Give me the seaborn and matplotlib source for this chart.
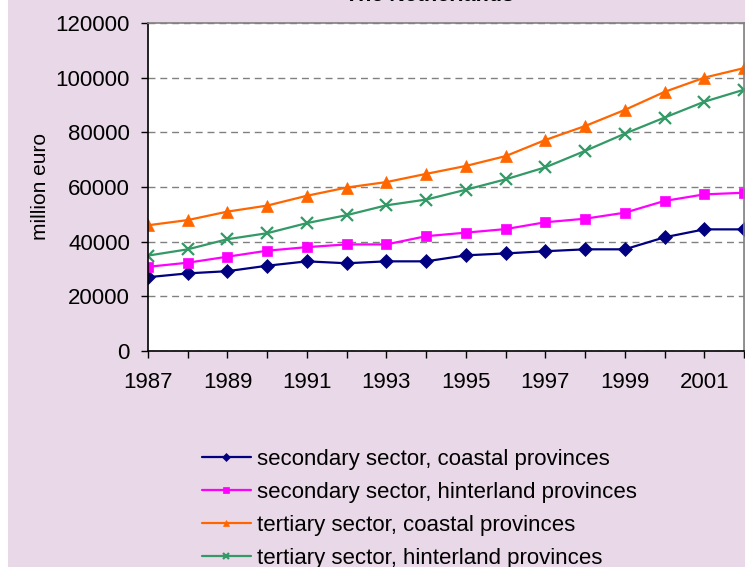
import numpy as np
import pandas as pd
import matplotlib
matplotlib.use('Agg')
import matplotlib.pyplot as plt
import seaborn as sns
from matplotlib.patches import Rectangle

# ─── Data (million euro) ───
years = list(range(1987, 2003))
sec_coastal = [27000, 28400, 29200, 31200, 32800, 32100, 32800, 32800,
               35000, 35700, 36500, 37200, 37200, 41600, 44500, 44500]
sec_hinter = [30800, 32300, 34500, 36700, 38000, 39000, 39000, 42000,
              43300, 44600, 47100, 48400, 50600, 54900, 57300, 57900]
ter_coastal = [46000, 47900, 51000, 53200, 56800, 59800, 61800, 64800,
               67700, 71300, 77200, 82300, 88200, 94800, 100000, 103500]
ter_hinter = [34900, 37200, 40900, 43100, 46800, 49700, 53300, 55400,
              59000, 62800, 67200, 73200, 79500, 85400, 91200, 95600]

labels = ['secondary sector, coastal provinces', 'secondary sector, hinterland provinces',
          'tertiary sector, coastal provinces', 'tertiary sector, hinterland provinces']
colors = ['#000080', '#FF00FF', '#FF6600', '#339966']
markers = ['D', 's', '^', 'x']
msizes = [7, 6.5, 8, 8]

BG = '#E8D8E8'

sns.set_style('white')
plt.rcParams['font.family'] = ['Liberation Sans', 'DejaVu Sans']
plt.rcParams['text.color'] = 'black'

fig = plt.figure(figsize=(7.45, 5.67), dpi=100)
fig.patch.set_facecolor('white')
fig.patches.append(Rectangle((8 / 745, 0), 1, 1, transform=fig.transFigure,
                             facecolor=BG, edgecolor='none', zorder=-10))
ax = fig.add_axes([148 / 745, 216 / 567, 596 / 745, 328 / 567])
ax.set_facecolor('white')

for vals, lab, c, m, ms in zip([sec_coastal, sec_hinter, ter_coastal, ter_hinter],
                               labels, colors, markers, msizes):
    df = pd.DataFrame({'year': years, 'value': vals})
    sns.lineplot(data=df, x='year', y='value', ax=ax, color=c, marker=m,
                 markersize=ms, markeredgecolor=c, markeredgewidth=1.6 if m == 'x' else 0.5,
                 linewidth=1.6, label=lab)

ax.set_xlim(1987, 2002)
ax.set_ylim(0, 120000)
ax.set_xticks(years)
ax.set_xticklabels([str(y) if (y - 1987) % 2 == 0 else '' for y in years])
ax.set_yticks(range(0, 120001, 20000))
ax.tick_params(axis='both', direction='out', length=5, width=1, color='black',
               labelcolor='black', labelsize=16, bottom=True, left=True)
ax.tick_params(axis='x', pad=10)
ax.tick_params(axis='y', pad=8)
ax.yaxis.grid(True, linestyle=(0, (5, 3.5)), color='#808080', linewidth=1)
ax.set_axisbelow(True)
for s in ['left', 'bottom']:
    ax.spines[s].set_color('black')
    ax.spines[s].set_linewidth(1.2)
for s in ['top', 'right']:
    ax.spines[s].set_color('#808080')
    ax.spines[s].set_linewidth(1.2)
ax.set_xlabel('')
ax.set_ylabel('million euro', fontsize=15, labelpad=4, color='black')
ax.set_title('The Netherlands', fontsize=15.5, fontweight='bold', x=0.473, y=1.0,
             pad=16, color='black')

ax.legend_.remove()
h, l = ax.get_legend_handles_labels()
fig.legend(h, l, loc='upper left', bbox_to_anchor=(193 / 745, 1 - 440 / 567),
           frameon=False, fontsize=16, markerscale=0.6, handlelength=2.2,
           handletextpad=0.3, labelspacing=0.54, borderaxespad=0,
           labelcolor='black')

plt.savefig('out.png', dpi=100, facecolor=fig.get_facecolor())
